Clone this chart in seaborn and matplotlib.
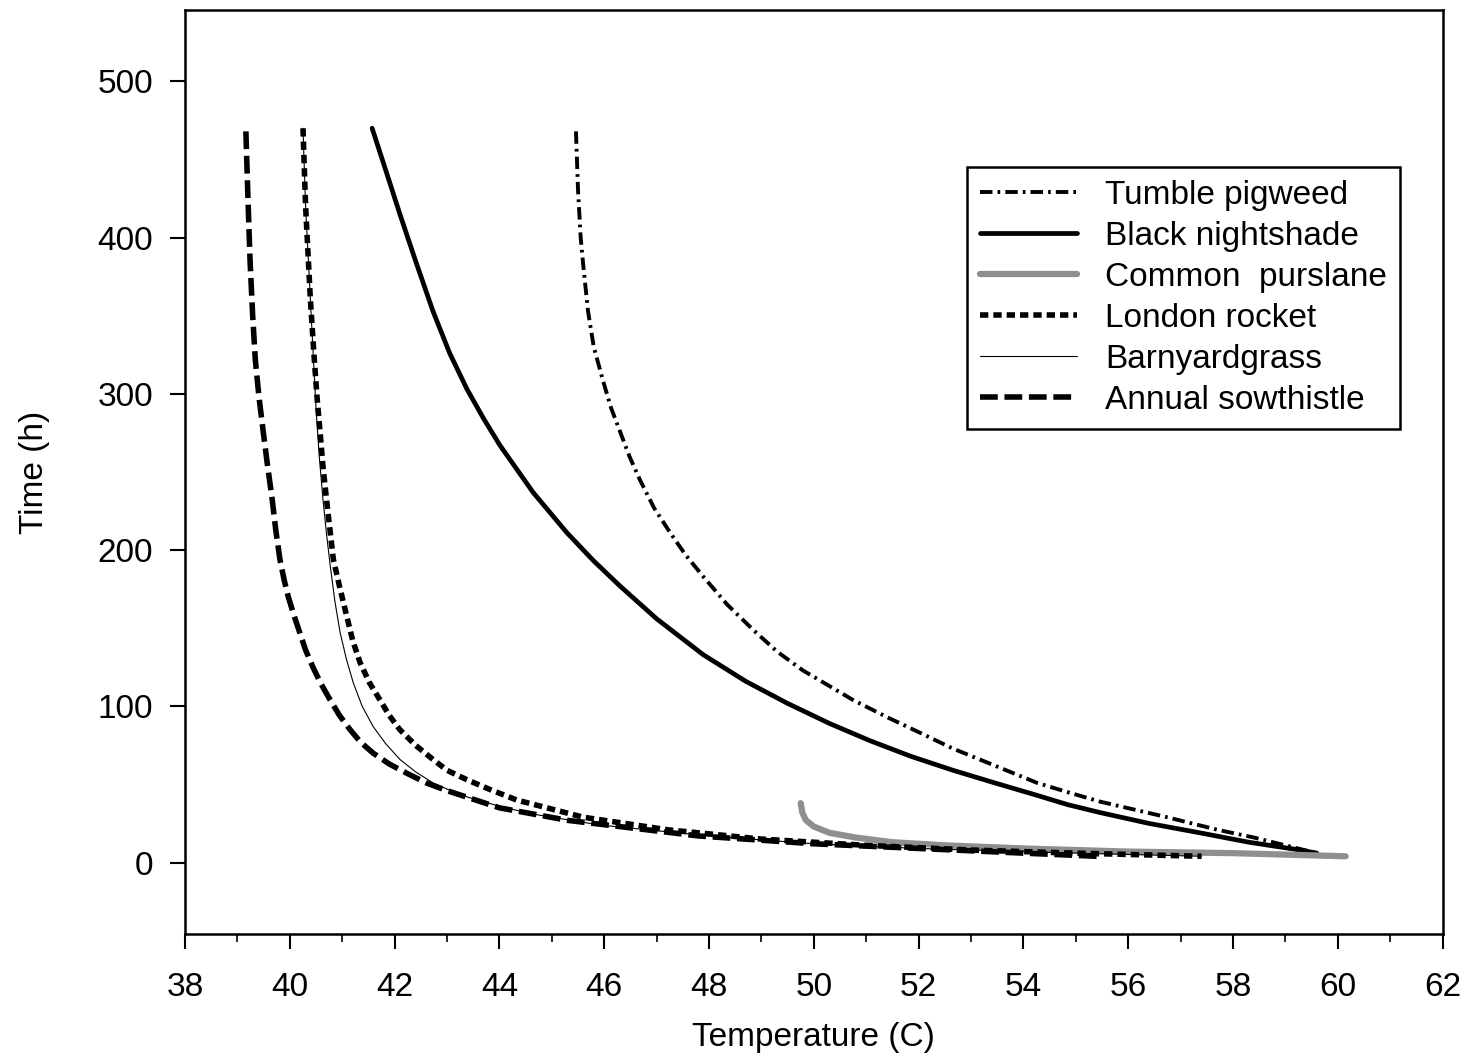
import matplotlib
matplotlib.use("Agg")
import matplotlib.pyplot as plt
import seaborn as sns
import pandas as pd

# values: temperature (C) vs time (h)
tumble_t = [45.46, 45.50, 45.55, 45.60, 45.69, 45.80, 45.98, 46.13, 46.30, 46.48, 46.68,
            46.95, 47.26, 47.55, 47.89, 48.35, 48.84, 49.30, 49.79, 50.75, 51.40, 52.03,
            52.65, 53.31, 54.26, 54.85, 55.46, 56.10, 56.74, 57.70, 58.40, 59.00, 59.60]
tumble_h = [468, 430, 400, 382, 353, 330, 308, 291, 276, 260, 245,
            227, 211, 197, 183, 165, 149, 135, 123, 104, 93, 83,
            73, 64, 51, 45, 39, 34, 29, 21, 16, 11, 6]

night_t = [41.57, 41.85, 42.10, 42.40, 42.73, 43.05, 43.38, 43.70, 44.01, 44.64, 45.29,
           45.80, 46.30, 47.00, 47.89, 48.70, 49.49, 50.30, 51.07, 51.85, 52.66, 53.45,
           54.26, 54.85, 55.46, 56.40, 57.37, 58.30, 59.28, 59.60]
night_h = [470, 441, 415, 385, 353, 326, 303, 284, 267, 237, 211,
           193, 177, 156, 133, 116, 102, 89, 78, 68, 59, 51,
           43, 37, 32, 25, 19, 13, 8, 6]

purslane_t = [49.75, 49.78, 49.85, 50.00, 50.30, 50.80, 51.50, 52.50, 54.00, 56.00, 58.00, 60.15]
purslane_h = [38, 32, 27, 23, 19, 16, 13, 11, 9, 7, 6, 4]

london_t = [40.25, 40.30, 40.39, 40.46, 40.52, 40.58, 40.63, 40.72, 40.83, 40.96, 41.09,
            41.20, 41.34, 41.52, 41.72, 41.90, 42.10, 42.40, 42.73, 43.00, 43.38, 43.80,
            44.33, 45.60, 47.20, 49.00, 51.00, 53.00, 55.00, 57.40]
london_h = [470, 420, 361, 325, 297, 274, 254, 226, 194, 175, 157,
            142, 128, 115, 104, 94, 85, 75, 66, 59, 53, 47,
            40, 29, 21, 15, 11, 8, 6, 4]

barnyard_t = [40.25, 40.30, 40.39, 40.50, 40.56, 40.63, 40.70, 40.77, 40.86, 40.96, 41.08,
              41.21, 41.38, 41.59, 41.83, 42.10, 42.40, 42.73, 43.00, 43.38, 44.00, 44.64,
              45.92, 48.00, 50.00, 52.00, 55.00, 57.40]
barnyard_h = [470, 420, 361, 290, 260, 233, 210, 190, 167, 147, 130,
              115, 100, 87, 76, 66, 58, 51, 47, 42, 36, 31,
              24, 17, 12, 9, 6, 4]

sow_t = [39.16, 39.20, 39.24, 39.29, 39.34, 39.41, 39.49, 39.57, 39.66, 39.73, 39.81,
         39.89, 39.97, 40.08, 40.19, 40.30, 40.44, 40.60, 40.77, 40.95, 41.15, 41.35,
         41.59, 41.90, 42.24, 42.60, 43.00, 44.00, 45.30, 47.80, 50.00, 52.00, 54.00, 55.40]
sow_h = [468, 425, 385, 350, 322, 298, 276, 255, 233, 213, 194,
         181, 170, 158, 147, 136, 125, 114, 104, 94, 85, 77,
         70, 63, 57, 51, 46, 35, 27, 17, 12, 9, 6, 4]

x_ticks = [38, 40, 42, 44, 46, 48, 50, 52, 54, 56, 58, 60, 62]
y_ticks = [0, 100, 200, 300, 400, 500]

sns.set_style("ticks")
plt.rcParams["font.family"] = ["Liberation Sans", "DejaVu Sans"]
plt.rcParams.update({"text.color": "black", "axes.labelcolor": "black",
                     "xtick.color": "black", "ytick.color": "black",
                     "axes.edgecolor": "black"})

series = [
    ("Tumble pigweed", tumble_t, tumble_h, dict(color="black", lw=2.8, linestyle=(0, (3.2, 1.3, 0.7, 1.3)))),
    ("Black nightshade", night_t, night_h, dict(color="black", lw=3.4, linestyle="-")),
    ("Common  purslane", purslane_t, purslane_h, dict(color="#8f8f8f", lw=4.5, linestyle="-")),
    ("London rocket", london_t, london_h, dict(color="black", lw=4.0, linestyle=(0, (1.5, 0.9)))),
    ("Barnyardgrass", barnyard_t, barnyard_h, dict(color="black", lw=0.8, linestyle="-")),
    ("Annual sowthistle", sow_t, sow_h, dict(color="black", lw=4.0, linestyle=(0, (3.2, 1.2)))),
]

fig = plt.figure(figsize=(14.69, 10.57), dpi=100)
ax = fig.add_axes([0.126, 0.116, 0.856, 0.875])

for name, t, h, st in series:
    df = pd.DataFrame({"Temperature": t, "Time": h})
    sns.lineplot(data=df, x="Temperature", y="Time", ax=ax, label=name,
                 estimator=None, sort=False, **st)

ax.set_xlim(38, 62)
ax.set_ylim(-46, 546)
ax.set_xticks(x_ticks)
ax.set_xticks(range(39, 62, 2), minor=True)
ax.set_yticks(y_ticks)
ax.tick_params(axis="both", which="major", labelsize=24, length=11, width=1.5, direction="out")
ax.tick_params(axis="x", which="major", pad=16)
ax.tick_params(axis="y", which="major", pad=12)
ax.tick_params(axis="x", which="minor", length=6, width=1.2, direction="out")
for sp in ax.spines.values():
    sp.set_linewidth(1.8)
    sp.set_visible(True)

ax.set_xlabel("Temperature (C)", fontsize=24, labelpad=14)
ax.set_ylabel("Time (h)", fontsize=24, labelpad=34)

leg = ax.legend(loc="upper left", bbox_to_anchor=(0.6216, 0.830), borderaxespad=0,
                fontsize=24, frameon=True, fancybox=False, framealpha=1,
                edgecolor="black", handlelength=2.9, handletextpad=0.85,
                labelspacing=0.30, borderpad=0.4)
leg.get_frame().set_linewidth(1.8)

fig.savefig("out.png", dpi=100)
